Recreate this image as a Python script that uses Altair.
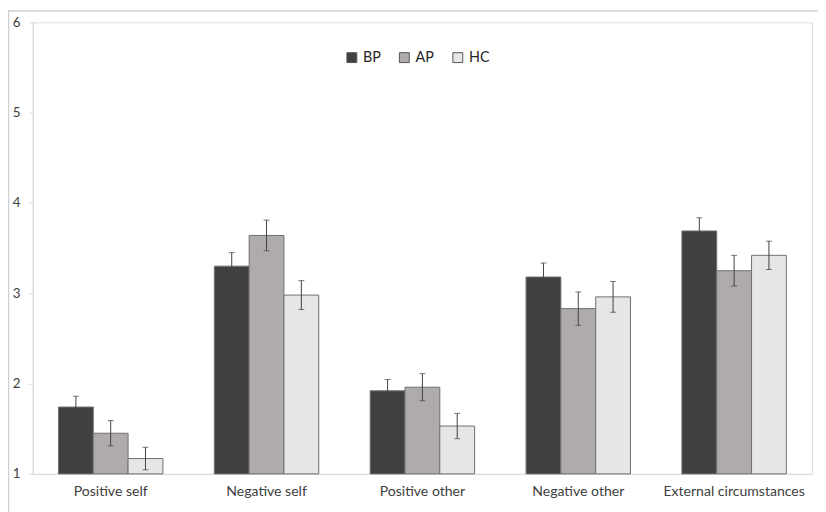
import altair as alt
import pandas as pd

categories = ["Positive self", "Negative self", "Positive other", "Negative other", "External circumstances"]
groups = ["BP", "AP", "HC"]
bp_mean = [1.74, 3.30, 1.92, 3.18, 3.69]
ap_mean = [1.45, 3.64, 1.96, 2.83, 3.25]
hc_mean = [1.17, 2.98, 1.53, 2.96, 3.42]
bp_err = [0.12, 0.15, 0.125, 0.155, 0.146]
ap_err = [0.14, 0.17, 0.15, 0.185, 0.17]
hc_err = [0.125, 0.16, 0.14, 0.17, 0.157]
colors = ["#404040", "#afabab", "#e7e6e6"]
y_ticks = [1, 2, 3, 4, 5, 6]

rows = []
for g, means, errs in zip(groups, [bp_mean, ap_mean, hc_mean], [bp_err, ap_err, hc_err]):
    for c, m, e in zip(categories, means, errs):
        rows.append({"category": c, "group": g, "mean": m, "base": 1.0,
                     "lo": m - e, "hi": m + e})
df = pd.DataFrame(rows)

FONT = "Lato"

x_enc = alt.X("category:N", sort=categories, title=None,
              scale=alt.Scale(paddingInner=0.33, paddingOuter=0.165),
              axis=alt.Axis(labelAngle=0, ticks=False, domainColor="#d9d9d9",
                            labelPadding=11, labelFontSize=14.2, labelColor="#404040",
                            labelFont=FONT))
xoff = alt.XOffset("group:N", sort=groups, scale=alt.Scale(paddingInner=0, paddingOuter=0))
y_scale = alt.Scale(domain=[1, 6], zero=False, nice=False)

base = alt.Chart(df)

bars = base.mark_bar(stroke="#6f6f6f", strokeWidth=1).encode(
    x=x_enc,
    xOffset=xoff,
    y=alt.Y("mean:Q", scale=y_scale, title=None,
            axis=alt.Axis(values=y_ticks, grid=False, tickSize=4, tickColor="#d9d9d9",
                          domainColor="#d9d9d9", labelPadding=9, labelFontSize=13.5,
                          labelColor="#404040", labelFont=FONT, format="d")),
    y2="base:Q",
    color=alt.Color("group:N", sort=groups,
                    scale=alt.Scale(domain=groups, range=colors),
                    legend=alt.Legend(title=None, orient="none", direction="horizontal",
                                      legendX=315, legendY=28, symbolType="square",
                                      symbolSize=100, symbolStrokeColor="#555555",
                                      symbolStrokeWidth=1, labelFontSize=14.5,
                                      labelFont=FONT, labelColor="#262626",
                                      columnPadding=16, labelOffset=4)),
)

rules = base.mark_rule(color="#404040", strokeWidth=1).encode(
    x=alt.X("category:N", sort=categories),
    xOffset=xoff,
    y=alt.Y("lo:Q", scale=y_scale),
    y2="hi:Q",
)
caps_hi = base.mark_tick(color="#404040", thickness=1, size=6, orient="horizontal").encode(
    x=alt.X("category:N", sort=categories),
    xOffset=xoff,
    y=alt.Y("hi:Q", scale=y_scale),
)
caps_lo = base.mark_tick(color="#404040", thickness=1, size=6, orient="horizontal").encode(
    x=alt.X("category:N", sort=categories),
    xOffset=xoff,
    y=alt.Y("lo:Q", scale=y_scale),
)

# outer chart frame (top and left edges visible in the reference)
frame_top = alt.Chart(pd.DataFrame({"k": [0]})).mark_rule(color="#d0d0d0", strokeWidth=1.5).encode(
    x=alt.value(-25), x2=alt.value(800), y=alt.value(-11.5)
)
frame_left = alt.Chart(pd.DataFrame({"k": [0]})).mark_rule(color="#d0d0d0", strokeWidth=1.5).encode(
    x=alt.value(-24.5), y=alt.value(-12), y2=alt.value(500)
)

chart = alt.layer(bars, rules, caps_hi, caps_lo, frame_top, frame_left).properties(
    width=787, height=456,
    autosize=alt.AutoSizeParams(type="none"),
    padding={"left": 25, "top": 12, "right": 6, "bottom": 36},
).configure_view(stroke=None).configure(background="white")

chart.save("out.html", embed_options={"renderer": "svg", "actions": False})
